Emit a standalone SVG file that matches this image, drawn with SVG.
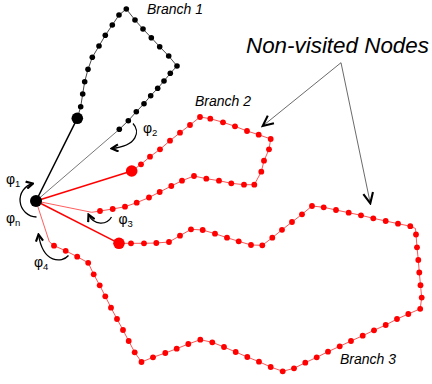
<svg xmlns="http://www.w3.org/2000/svg" xmlns:xlink="http://www.w3.org/1999/xlink" width="432" height="384" viewBox="0 0 432 384">
<style>
.bd{fill:#000}
.rd{fill:#f00}
.bl{fill:none;stroke:#333;stroke-width:0.9}
.rl{fill:none;stroke:#f55;stroke-width:1}
.arc{fill:none;stroke:#000;stroke-width:1.3}
.lbl{font-family:"Liberation Sans",Arial,sans-serif;font-style:italic;font-size:14px;fill:#000}
.phi{font-family:"Liberation Sans",Arial,sans-serif;font-size:14px;fill:#000}
.sub{font-size:9.5px}
</style>
<defs>
<marker id="ah" viewBox="0 0 10 10" refX="8.5" refY="5" markerWidth="9" markerHeight="9" orient="auto" markerUnits="userSpaceOnUse">
<path d="M1,1 L8.5,5 L1,9" fill="none" stroke="#000" stroke-width="2.4"/>
</marker>
<marker id="bah" viewBox="0 0 10 10" refX="8.5" refY="5" markerWidth="14" markerHeight="14" orient="auto" markerUnits="userSpaceOnUse">
<path d="M1,1.5 L8.5,5 L1,8.5" fill="none" stroke="#000" stroke-width="1.5"/>
</marker>
</defs>

<g id="connectors">
<line x1="36" y1="201" x2="77.3" y2="118.3" stroke="#000" stroke-width="1.5"/>
<line x1="36" y1="201" x2="119.3" y2="129.3" stroke="#555" stroke-width="0.8"/>
<line x1="36" y1="201" x2="131.7" y2="171" stroke="#f00" stroke-width="1.5"/>
<polyline points="36,201 91.7,212.3 100,211" fill="none" stroke="#f33" stroke-width="0.8"/>
<line x1="36" y1="201" x2="119" y2="243.3" stroke="#f00" stroke-width="1.5"/>
<polyline points="36,201 49.3,241.7 54,245.7" fill="none" stroke="#f33" stroke-width="0.8"/>
<line x1="341" y1="62.7" x2="262.7" y2="126" stroke="#444" stroke-width="0.8" marker-end="url(#bah)"/>
<line x1="341" y1="62.7" x2="370.3" y2="203.3" stroke="#444" stroke-width="0.8" marker-end="url(#bah)"/>
</g>

<g id="branch1">
<polyline class="bl" points="77.3,118.3 80.7,106.7 82.7,94 84.7,81.7 88,69.3 92.3,57.3 99,46 105.3,35.3 112.3,25 119,15 126.3,9 135,20 143,29 151.3,37.7 159.7,46.7 168.7,56 177,66 170.3,73.3 164,81 157.7,88.3 150.7,95.7 144,103.7 136.3,111.7 128.3,120.7 119.3,129.3"/>
<circle class="bd" cx="77.3" cy="118.3" r="5.8"/>
<circle class="bd" cx="80.7" cy="106.7" r="2.8"/><circle class="bd" cx="82.7" cy="94" r="2.8"/><circle class="bd" cx="84.7" cy="81.7" r="2.8"/><circle class="bd" cx="88" cy="69.3" r="2.8"/><circle class="bd" cx="92.3" cy="57.3" r="2.8"/><circle class="bd" cx="99" cy="46" r="2.8"/><circle class="bd" cx="105.3" cy="35.3" r="2.8"/><circle class="bd" cx="112.3" cy="25" r="2.8"/><circle class="bd" cx="119" cy="15" r="2.8"/><circle class="bd" cx="126.3" cy="9" r="2.8"/><circle class="bd" cx="135" cy="20" r="2.8"/><circle class="bd" cx="143" cy="29" r="2.8"/><circle class="bd" cx="151.3" cy="37.7" r="2.8"/><circle class="bd" cx="159.7" cy="46.7" r="2.8"/><circle class="bd" cx="168.7" cy="56" r="2.8"/><circle class="bd" cx="177" cy="66" r="2.8"/><circle class="bd" cx="170.3" cy="73.3" r="2.8"/><circle class="bd" cx="164" cy="81" r="2.8"/><circle class="bd" cx="157.7" cy="88.3" r="2.8"/><circle class="bd" cx="150.7" cy="95.7" r="2.8"/><circle class="bd" cx="144" cy="103.7" r="2.8"/><circle class="bd" cx="136.3" cy="111.7" r="2.8"/><circle class="bd" cx="128.3" cy="120.7" r="2.8"/><circle class="bd" cx="119.3" cy="129.3" r="2.8"/>
</g>

<g id="branch2">
<polyline class="rl" points="131.7,171 141,164.3 150,156.7 160,149.3 170,140.7 180,132.7 190,125 200,117 210.3,118.7 223,122.3 235,126.3 247,131 258.7,134.7 270.7,139 269,149.3 264,160.7 261.3,171.7 254.3,184.7 244,184.7 231.3,183.3 219,180.7 206.3,178.7 194,176 182,180.7 171.3,186 159.7,192 149,197.5 136.7,202.7 125,206.7 112.7,209 100,211"/>
<circle class="rd" cx="131.7" cy="171" r="5.8"/>
<circle class="rd" cx="141" cy="164.3" r="2.9"/><circle class="rd" cx="150" cy="156.7" r="2.9"/><circle class="rd" cx="160" cy="149.3" r="2.9"/><circle class="rd" cx="170" cy="140.7" r="2.9"/><circle class="rd" cx="180" cy="132.7" r="2.9"/><circle class="rd" cx="190" cy="125" r="2.9"/><circle class="rd" cx="200" cy="117" r="2.9"/><circle class="rd" cx="210.3" cy="118.7" r="2.9"/><circle class="rd" cx="223" cy="122.3" r="2.9"/><circle class="rd" cx="235" cy="126.3" r="2.9"/><circle class="rd" cx="247" cy="131" r="2.9"/><circle class="rd" cx="258.7" cy="134.7" r="2.9"/><circle class="rd" cx="270.7" cy="139" r="2.9"/><circle class="rd" cx="269" cy="149.3" r="2.9"/><circle class="rd" cx="264" cy="160.7" r="2.9"/><circle class="rd" cx="261.3" cy="171.7" r="2.9"/><circle class="rd" cx="254.3" cy="184.7" r="2.9"/><circle class="rd" cx="244" cy="184.7" r="2.9"/><circle class="rd" cx="231.3" cy="183.3" r="2.9"/><circle class="rd" cx="219" cy="180.7" r="2.9"/><circle class="rd" cx="206.3" cy="178.7" r="2.9"/><circle class="rd" cx="194" cy="176" r="2.9"/><circle class="rd" cx="182" cy="180.7" r="2.9"/><circle class="rd" cx="171.3" cy="186" r="2.9"/><circle class="rd" cx="159.7" cy="192" r="2.9"/><circle class="rd" cx="149" cy="197.5" r="2.9"/><circle class="rd" cx="136.7" cy="202.7" r="2.9"/><circle class="rd" cx="125" cy="206.7" r="2.9"/><circle class="rd" cx="112.7" cy="209" r="2.9"/><circle class="rd" cx="100" cy="211" r="2.9"/>
</g>

<g id="branch3">
<polyline class="rl" points="119,243.3 131,243.3 144,243.3 156.3,243 169,242 180,235.7 191,229.3 202.7,230 215,233.7 227,237.7 238.7,241.3 251,245 262.3,245.3 272.3,237.7 282,229.8 292,222 302,214.3 312,206 323.7,207.3 336,210 348.7,212.7 361,215.3 373.3,218.3 385.7,221 398,223.7 410.3,226.2 415.5,228.5 416,234.5 417,247.3 418.3,260 419.3,272.5 420.5,285.2 421.7,297.6 420.2,308.8 408.3,314 397,319 385.7,325 374,330.3 362.7,335.7 351,341 339.7,346.3 328,351.7 316.7,357.3 305.3,362.7 294,368.3 282.7,371.3 270.7,367 259,361.7 247.3,357 235.7,352 224,347 212.3,342.3 200.3,339.7 188.3,344 176.7,348.7 165.3,353 153,357.3 141.5,362 134.7,352.3 128.7,341 123,330 117,319 111,307.7 105.3,296.3 99.7,285.3 93.7,274.3 88.2,262.8 77.2,256.7 65.7,250.8 54,245.7"/>
<circle class="rd" cx="119" cy="243.3" r="5.8"/>
<circle class="rd" cx="131" cy="243.3" r="2.9"/><circle class="rd" cx="144" cy="243.3" r="2.9"/><circle class="rd" cx="156.3" cy="243" r="2.9"/><circle class="rd" cx="169" cy="242" r="2.9"/><circle class="rd" cx="180" cy="235.7" r="2.9"/><circle class="rd" cx="191" cy="229.3" r="2.9"/><circle class="rd" cx="202.7" cy="230" r="2.9"/><circle class="rd" cx="215" cy="233.7" r="2.9"/><circle class="rd" cx="227" cy="237.7" r="2.9"/><circle class="rd" cx="238.7" cy="241.3" r="2.9"/><circle class="rd" cx="251" cy="245" r="2.9"/><circle class="rd" cx="262.3" cy="245.3" r="2.9"/><circle class="rd" cx="272.3" cy="237.7" r="2.9"/><circle class="rd" cx="282" cy="229.8" r="2.9"/><circle class="rd" cx="292" cy="222" r="2.9"/><circle class="rd" cx="302" cy="214.3" r="2.9"/><circle class="rd" cx="312" cy="206" r="2.9"/><circle class="rd" cx="323.7" cy="207.3" r="2.9"/><circle class="rd" cx="336" cy="210" r="2.9"/><circle class="rd" cx="348.7" cy="212.7" r="2.9"/><circle class="rd" cx="361" cy="215.3" r="2.9"/><circle class="rd" cx="373.3" cy="218.3" r="2.9"/><circle class="rd" cx="385.7" cy="221" r="2.9"/><circle class="rd" cx="398" cy="223.7" r="2.9"/><circle class="rd" cx="410.3" cy="226.2" r="2.9"/><circle class="rd" cx="416" cy="234.5" r="2.9"/><circle class="rd" cx="417" cy="247.3" r="2.9"/><circle class="rd" cx="418.3" cy="260" r="2.9"/><circle class="rd" cx="419.3" cy="272.5" r="2.9"/><circle class="rd" cx="420.5" cy="285.2" r="2.9"/><circle class="rd" cx="421.7" cy="297.6" r="2.9"/><circle class="rd" cx="420.2" cy="308.8" r="2.9"/><circle class="rd" cx="408.3" cy="314" r="2.9"/><circle class="rd" cx="397" cy="319" r="2.9"/><circle class="rd" cx="385.7" cy="325" r="2.9"/><circle class="rd" cx="374" cy="330.3" r="2.9"/><circle class="rd" cx="362.7" cy="335.7" r="2.9"/><circle class="rd" cx="351" cy="341" r="2.9"/><circle class="rd" cx="339.7" cy="346.3" r="2.9"/><circle class="rd" cx="328" cy="351.7" r="2.9"/><circle class="rd" cx="316.7" cy="357.3" r="2.9"/><circle class="rd" cx="305.3" cy="362.7" r="2.9"/><circle class="rd" cx="294" cy="368.3" r="2.9"/><circle class="rd" cx="282.7" cy="371.3" r="2.9"/><circle class="rd" cx="270.7" cy="367" r="2.9"/><circle class="rd" cx="259" cy="361.7" r="2.9"/><circle class="rd" cx="247.3" cy="357" r="2.9"/><circle class="rd" cx="235.7" cy="352" r="2.9"/><circle class="rd" cx="224" cy="347" r="2.9"/><circle class="rd" cx="212.3" cy="342.3" r="2.9"/><circle class="rd" cx="200.3" cy="339.7" r="2.9"/><circle class="rd" cx="188.3" cy="344" r="2.9"/><circle class="rd" cx="176.7" cy="348.7" r="2.9"/><circle class="rd" cx="165.3" cy="353" r="2.9"/><circle class="rd" cx="153" cy="357.3" r="2.9"/><circle class="rd" cx="141.5" cy="362" r="2.9"/><circle class="rd" cx="134.7" cy="352.3" r="2.9"/><circle class="rd" cx="128.7" cy="341" r="2.9"/><circle class="rd" cx="123" cy="330" r="2.9"/><circle class="rd" cx="117" cy="319" r="2.9"/><circle class="rd" cx="111" cy="307.7" r="2.9"/><circle class="rd" cx="105.3" cy="296.3" r="2.9"/><circle class="rd" cx="99.7" cy="285.3" r="2.9"/><circle class="rd" cx="93.7" cy="274.3" r="2.9"/><circle class="rd" cx="88.2" cy="262.8" r="2.9"/><circle class="rd" cx="77.2" cy="256.7" r="2.9"/><circle class="rd" cx="65.7" cy="250.8" r="2.9"/><circle class="rd" cx="54" cy="245.7" r="2.9"/>
</g>

<g id="center">
<circle class="bd" cx="36" cy="201" r="6"/>
</g>

<g id="angles">
<path class="arc" d="M36.5,217 A17,17 0 0 1 33,183.5" marker-end="url(#ah)"/>
<path class="arc" d="M133,123.5 C140,131 138,146 111.5,148.5" marker-end="url(#ah)"/>
<path class="arc" d="M111.5,217 C107,225 94,226 88.5,214.5" marker-end="url(#ah)"/>
<path class="arc" d="M68.5,255.5 C62,263 43,264 38.5,234.5" marker-end="url(#ah)"/>
<text class="phi" x="6" y="184">φ<tspan class="sub" dy="3">1</tspan></text>
<text class="phi" x="6" y="222.5">φ<tspan class="sub" dy="3">n</tspan></text>
<text class="phi" x="143" y="133">φ<tspan class="sub" dy="3">2</tspan></text>
<text class="phi" x="118.5" y="224">φ<tspan class="sub" dy="3">3</tspan></text>
<text class="phi" x="34" y="267">φ<tspan class="sub" dy="3">4</tspan></text>
</g>

<g id="labels">
<text class="lbl" x="147" y="13.5">Branch 1</text>
<text class="lbl" x="195" y="106">Branch 2</text>
<text class="lbl" x="340" y="364">Branch 3</text>
<text class="lbl" x="246" y="53" style="font-size:22.4px">Non-visited Nodes</text>
</g>
</svg>
